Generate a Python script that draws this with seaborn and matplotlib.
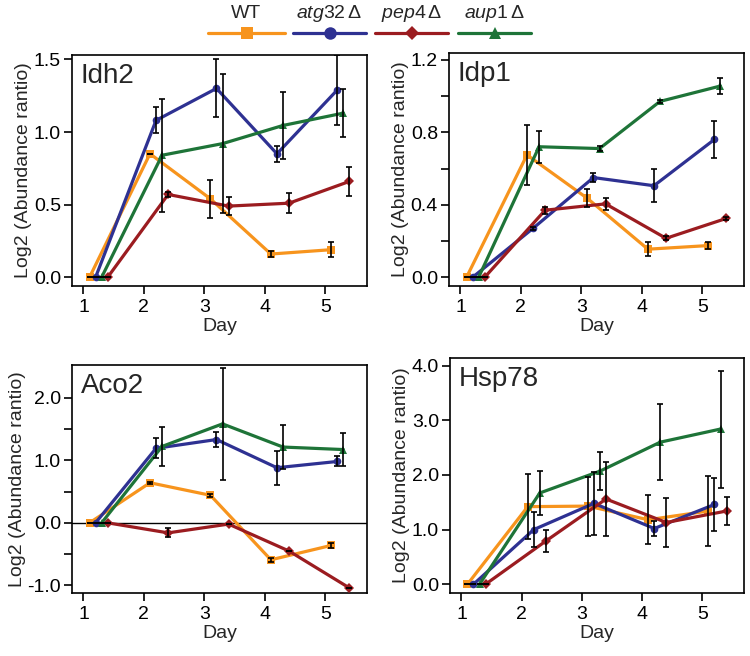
import matplotlib
matplotlib.use("Agg")
import matplotlib.pyplot as plt
from matplotlib.lines import Line2D
import numpy as np
import pandas as pd
import seaborn as sns

# data
days = [1, 2, 3, 4, 5]
strains = ["WT", "atg32", "pep4", "aup1"]
panels = ["Idh2", "Idp1", "Aco2", "Hsp78"]

idh2_mean = {"WT": [0, 0.85, 0.54, 0.16, 0.19],
             "atg32": [0, 1.08, 1.30, 0.85, 1.29],
             "pep4": [0, 0.57, 0.49, 0.51, 0.66],
             "aup1": [0, 0.84, 0.92, 1.045, 1.13]}
idh2_err = {"WT": [0, 0, 0.13, 0.02, 0.05],
            "atg32": [0, 0.09, 0.20, 0.055, 0.24],
            "pep4": [0, 0.02, 0.06, 0.07, 0.10],
            "aup1": [0, 0.39, 0.48, 0.23, 0.165]}

idp1_mean = {"WT": [0, 0.675, 0.435, 0.155, 0.175],
             "atg32": [0, 0.27, 0.55, 0.505, 0.76],
             "pep4": [0, 0.37, 0.405, 0.215, 0.325],
             "aup1": [0, 0.72, 0.71, 0.97, 1.055]}
idp1_err = {"WT": [0, 0.165, 0.05, 0.04, 0.02],
            "atg32": [0, 0.01, 0.025, 0.09, 0.10],
            "pep4": [0, 0.02, 0.035, 0.01, 0.01],
            "aup1": [0, 0.087, 0.015, 0.01, 0.045]}

aco2_mean = {"WT": [0, 0.64, 0.44, -0.59, -0.36],
             "atg32": [0, 1.19, 1.33, 0.88, 0.98],
             "pep4": [0, -0.16, -0.02, -0.45, -1.04],
             "aup1": [0, 1.22, 1.58, 1.21, 1.17]}
aco2_err = {"WT": [0, 0.02, 0.02, 0.03, 0.04],
            "atg32": [0, 0.16, 0.12, 0.27, 0.08],
            "pep4": [0, 0.07, 0, 0, 0],
            "aup1": [0, 0.31, 0.90, 0.35, 0.26]}

hsp78_mean = {"WT": [0, 1.42, 1.43, 1.18, 1.34],
              "atg32": [0, 1.00, 1.48, 1.02, 1.46],
              "pep4": [0, 0.79, 1.56, 1.13, 1.34],
              "aup1": [0, 1.67, 2.07, 2.60, 2.84]}
hsp78_err = {"WT": [0, 0.60, 0.54, 0.45, 0.64],
             "atg32": [0, 0.32, 0.58, 0.13, 0.48],
             "pep4": [0, 0.20, 0.68, 0.45, 0.25],
             "aup1": [0, 0.41, 0.35, 0.70, 1.07]}

means = {"Idh2": idh2_mean, "Idp1": idp1_mean, "Aco2": aco2_mean, "Hsp78": hsp78_mean}
errs = {"Idh2": idh2_err, "Idp1": idp1_err, "Aco2": aco2_err, "Hsp78": hsp78_err}

# styling
colors = {"WT": "#F7941D", "atg32": "#2E3192", "pep4": "#9B1C20", "aup1": "#1E7438"}
markers = {"WT": "s", "atg32": "o", "pep4": "D", "aup1": "^"}
offsets = {"WT": 0.1, "atg32": 0.2, "aup1": 0.3, "pep4": 0.4}
labels = {"WT": "WT", "atg32": r"$\mathit{atg32}\,\Delta$",
          "pep4": r"$\mathit{pep4}\,\Delta$", "aup1": r"$\mathit{aup1}\,\Delta$"}

rows = []
for p in panels:
    for s in strains:
        for d, m, e in zip(days, means[p][s], errs[p][s]):
            rows.append({"panel": p, "strain": s, "day": d + offsets[s], "value": m, "err": e})
df = pd.DataFrame(rows)

sns.set_theme(style="ticks")
plt.rcParams["font.family"] = ["Liberation Sans", "DejaVu Sans"]
plt.rcParams["mathtext.fontset"] = "custom"
plt.rcParams["mathtext.rm"] = "Liberation Sans"
plt.rcParams["mathtext.it"] = "Liberation Sans:italic"

fig = plt.figure(figsize=(7.5, 6.56), dpi=100)

W, H = 750, 656
boxes = {"Idh2": (72, 367, 55, 286), "Idp1": (449, 744, 53, 286),
         "Aco2": (72, 367, 365, 593), "Hsp78": (450, 744, 358, 593)}
ylims = {"Idh2": (-0.06, 1.53), "Idp1": (-0.048, 1.237),
         "Aco2": (-1.12, 2.52), "Hsp78": (-0.16, 4.14)}
yticks = {"Idh2": np.arange(0, 1.51, 0.5), "Idp1": np.arange(0, 1.21, 0.2),
          "Aco2": np.arange(-1, 2.01, 0.5), "Hsp78": np.arange(0, 4.01, 1.0)}
ylab_every = {"Idh2": 1, "Idp1": 2, "Aco2": 2, "Hsp78": 1}

for p in panels:
    l, r, t, b = boxes[p]
    ax = fig.add_axes([l / W, 1 - b / H, (r - l) / W, (b - t) / H])
    sub = df[df.panel == p]
    for s in strains:
        d = sub[sub.strain == s]
        ax.errorbar(d.day, d.value, yerr=d.err, fmt="none", ecolor="black",
                    elinewidth=1.2, capsize=2.5, capthick=1.2, zorder=4)
    sns.lineplot(data=sub, x="day", y="value", hue="strain", style="strain",
                 palette=colors, markers=markers, dashes=False, estimator=None,
                 sort=False, linewidth=2.3, markersize=5.5, markeredgewidth=0,
                 legend=False, ax=ax, zorder=3)
    if p == "Aco2":
        ax.axhline(0, color="black", linewidth=1.0, zorder=1)
    ax.set_xlim(0.81, 5.69)
    ax.set_ylim(*ylims[p])
    ax.set_xticks(days)
    ax.set_xticklabels([str(d) for d in days])
    yt = yticks[p]
    ax.set_yticks(yt)
    ax.set_yticklabels([f"{v:.1f}" if i % ylab_every[p] == 0 else ""
                        for i, v in enumerate(yt)])
    ax.tick_params(direction="out", length=6, width=1.2, labelsize=14, colors="black")
    ax.tick_params(axis="y", pad=2)
    for sp in ax.spines.values():
        sp.set_linewidth(1.2)
        sp.set_color("black")
    ax.set_xlabel("Day", fontsize=14, labelpad=1)
    ax.set_ylabel("Log2 (Abundance rantio)", fontsize=14, labelpad=1)
    ax.text(0.03, 0.965, p, transform=ax.transAxes, fontsize=20, va="top", ha="left")

# legend across the top
legend_x = {"WT": (208, 285), "atg32": (293, 366), "pep4": (375, 448), "aup1": (458, 531)}
for s in strains:
    x0, x1 = legend_x[s]
    fig.add_artist(Line2D([x0 / W, x1 / W], [1 - 33 / H, 1 - 33 / H], color=colors[s],
                          linewidth=2.3, marker=None, transform=fig.transFigure))
    fig.add_artist(Line2D([(x0 + x1) / 2 / W], [1 - 33 / H], color=colors[s],
                          marker=markers[s], markersize=9 if s != "pep4" else 7,
                          markeredgewidth=0, linestyle="none", transform=fig.transFigure))
    fig.text((x0 + x1) / 2 / W, 1 - 14 / H, labels[s], ha="center", va="center", fontsize=14)

fig.savefig("out.png", dpi=100)
